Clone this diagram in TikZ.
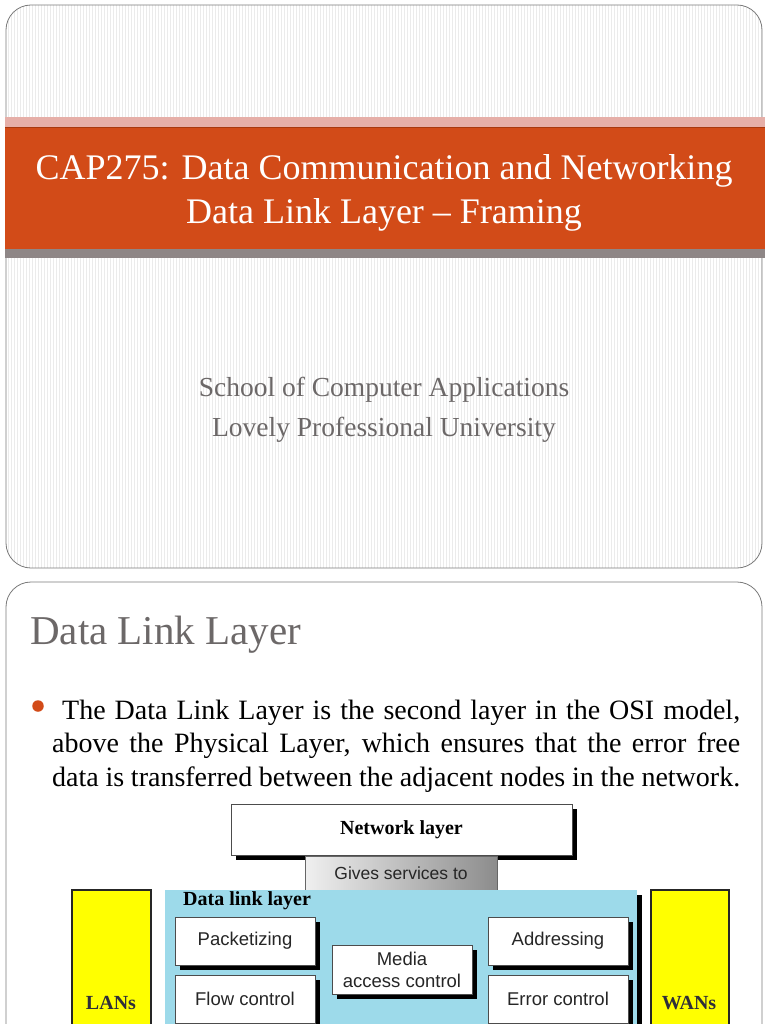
\documentclass[tikz,border=0pt]{standalone}
\usepackage{fontspec}
\setmainfont{Liberation Serif}
\setsansfont{Liberation Sans}
\usepackage{xcolor}
\usetikzlibrary{positioning,shadows}
\definecolor{lpuorange}{HTML}{D24B18}
\definecolor{lpuoranged}{HTML}{A8390F}
\definecolor{lpupink}{HTML}{E6AFA8}
\definecolor{lpushade}{HTML}{8E8686}
\definecolor{lpugrey}{HTML}{6C6868}
\definecolor{lpuedge}{HTML}{7A7A7A}
\definecolor{dllblue}{HTML}{9DDAEA}
\definecolor{netyellow}{HTML}{FFFF00}
\definecolor{netink}{HTML}{2E2E3A}
\newcommand{\setfs}[2]{\fontsize{#1}{#2}\selectfont}
\tikzset{
  slide/.style      = {draw=lpuedge, line width=0.8pt, rounded corners=25pt},
  stripe/.style     = {draw=black!8, line width=0.8pt},
  titletext/.style  = {text=white, align=center, font=\setfs{36}{44}},
  subtext/.style    = {text=lpugrey, align=center, font=\setfs{27.5}{40}},
  slidehead/.style  = {text=lpugrey, font=\setfs{41}{48}, inner sep=0pt},
  bodyline/.style   = {text=black, font=\setfs{28}{33}, inner sep=0pt},
  bulletdot/.style  = {circle, fill=lpuorange, minimum size=11.5pt, inner sep=0pt},
  %
  blackshadow/.style = {drop shadow={shadow xshift=4.5pt, shadow yshift=-4.5pt,
                        fill=black, opacity=1}},
  layerbox/.style   = {draw=black!70, fill=white, line width=0.7pt, inner sep=0pt,
                       blackshadow},
  taskbox/.style    = {layerbox, minimum width=140pt, minimum height=48pt,
                       align=center, font=\sffamily\setfs{18.5}{22}, text=black!85},
  givesbox/.style   = {draw=black!60, line width=0.5pt, inner sep=0pt,
                       left color=black!6, middle color=black!10, right color=black!45,
                       font=\sffamily\setfs{17.5}{20}, text=black!85},
  dllbox/.style     = {fill=dllblue, inner sep=0pt, blackshadow},
  netbox/.style     = {draw=black!85, fill=netyellow, line width=2.2pt, inner sep=0pt},
  boldlbl/.style    = {font=\bfseries\setfs{20}{22}, inner sep=0pt, text=black},
  netlbl/.style     = {font=\bfseries\setfs{20}{22}, inner sep=0pt, text=netink},
}

\begin{document}
\begin{tikzpicture}[x=1pt, y=-1pt]
  \useasboundingbox (0,0) rectangle (768,1024);
  \clip (0,0) rectangle (768,1024);
  \fill[white] (0,0) rectangle (768,1024);

  % ---------- title slide ------------------------------------------------
  \fill[white, rounded corners=25pt] (6,5) rectangle (762,568);
  \begin{scope}
    \clip[rounded corners=25pt] (6,5) rectangle (762,568);
    \foreach \sx in {8,11,...,761}
      \draw[stripe] (\sx,5) -- (\sx,568);
  \end{scope}
  \draw[slide] (6,5) rectangle (762,568);

  \fill[lpupink]   (5,117) rectangle (765,127);
  \fill[lpuorange] (5,127) rectangle (765,249);
  \fill[lpushade]  (5,249) rectangle (765,258);
  \draw[lpuoranged, line width=1pt] (5,127.5) -- (765,127.5);

  \node[titletext] (title) at (384,193)
    {CAP275: Data Communication and Networking\\Data Link Layer -- Framing};
  \node[subtext] (school) at (384,410)
    {School of Computer Applications\\Lovely Professional University};

  % ---------- second slide -----------------------------------------------
  \draw[slide, fill=white] (6,582) rectangle (762,1080);
  \node[slidehead, anchor=base west] (head) at (30,644) {Data Link Layer};

  \node[bulletdot] (dot) at (38,706) {};
  \node[bodyline, anchor=base west] (line1) at (62,719)
    {\makebox[678pt][s]{The Data Link Layer is the second layer in the OSI model,}};
  \node[bodyline, anchor=base west] (line2) at (52,752.5)
    {\makebox[688pt][s]{above the Physical Layer, which ensures that the error free}};
  \node[bodyline, anchor=base west] (line3) at (52,786)
    {\makebox[688pt][s]{data is transferred between the adjacent nodes in the network.}};

  % ---------- layer diagram ----------------------------------------------
  \node[layerbox, boldlbl, minimum width=341pt, minimum height=51pt] (net)
    at (401.5,829.5) {Network layer};
  \node[givesbox, minimum width=192pt, minimum height=34pt] (gives)
    at (401,873) {Gives services to};

  \node[dllbox, anchor=north west, minimum width=472pt, minimum height=190pt]
    (dll) at (165,890) {};
  \node[boldlbl, anchor=west] (dlllbl) at (183,901) {Data link layer};

  \node[taskbox] (pack) at (245,941) {Packetizing};
  \node[taskbox] (flow) at (245,999) {Flow control};
  \node[taskbox, minimum height=49pt] (mac) at (402,969.5) {Media\\access control};
  \node[taskbox] (addr) at (558,941) {Addressing};
  \node[taskbox] (err)  at (558,999) {Error control};

  \node[netbox, anchor=north west, minimum width=79pt, minimum height=190pt]
    (lan) at (71,889) {};
  \node[netlbl] (lanlbl) at (111,1003) {LANs};
  \node[netbox, anchor=north west, minimum width=78pt, minimum height=190pt]
    (wan) at (650,889) {};
  \node[netlbl] (wanlbl) at (689,1003) {WANs};

\end{tikzpicture}
\end{document}
